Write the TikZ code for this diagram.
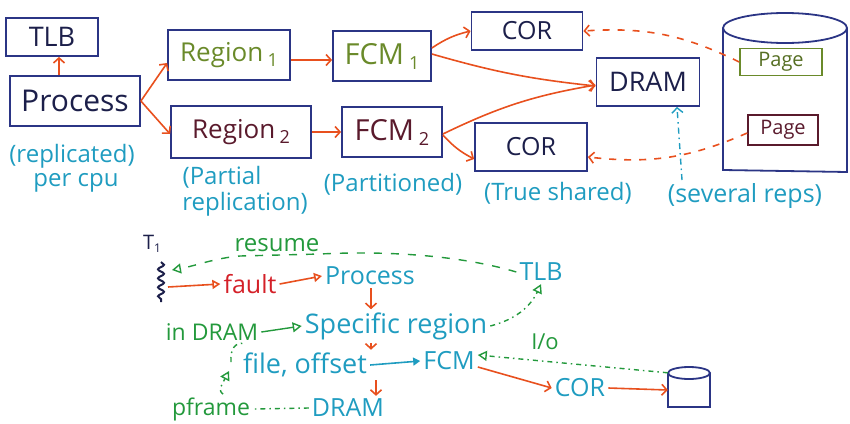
\documentclass[tikz,border=0pt]{standalone}
\usepackage{fontspec}
\setmainfont{Open Sans}
\usetikzlibrary{arrows.meta,decorations.pathmorphing}
\definecolor{navyc}{HTML}{2B3585}
\definecolor{inkc}{HTML}{1C1F4A}
\definecolor{oredc}{HTML}{E8501E}
\definecolor{olivec}{HTML}{6A8A2A}
\definecolor{maroonc}{HTML}{5A1A2C}
\definecolor{tealc}{HTML}{1F9CC0}
\definecolor{greenc}{HTML}{23993C}
\definecolor{redc}{HTML}{D42028}
\newcommand{\fs}[1]{\fontsize{#1}{#1}\selectfont}
\begin{document}
\begin{tikzpicture}[x=1pt,y=-1pt,
  box/.style={draw=navyc, line width=1.8pt, inner sep=0pt, text=inkc},
  arr/.style={draw=oredc, line width=1.6pt, -{Straight Barb[length=5pt,width=11pt]}},
  darr/.style={arr, dash pattern=on 7pt off 8pt},
  tarr/.style={draw=oredc, line width=1.6pt, -{Triangle[open,length=8pt,width=9pt]}},
  gline/.style={draw=greenc, line width=1.4pt},
  gdash/.style={gline, dash pattern=on 8pt off 9pt},
  gdot/.style={gline, dash pattern=on 5pt off 4pt on 1.5pt off 4pt},
  gtip/.style={-{Triangle[open,length=9pt,width=10pt]}},
  note/.style={text=tealc, font=\fs{24}, inner sep=0pt},
  bt/.style={text=tealc, font=\fs{25}, inner sep=3pt},
  gt/.style={text=greenc, font=\fs{23}, inner sep=3pt},
]
\useasboundingbox (0,0) rectangle (850,423);

% ---------- top diagram ----------
\node[box, minimum width=92pt, minimum height=38pt, font=\fs{27}] (tlb) at (52,37) {TLB};
\node[box, minimum width=130pt, minimum height=50pt, font=\fs{30}] (proc) at (75,101) {Process};
\node[box, minimum width=122pt, minimum height=50pt, font=\fs{26}, text=olivec] (r1) at (229,55) {Region\,\raisebox{-5pt}{\fs{18}1}};
\node[box, minimum width=140pt, minimum height=52pt, font=\fs{26}, text=maroonc] (r2) at (241,132) {Region\,\raisebox{-5pt}{\fs{18}2}};
\node[box, minimum width=98pt, minimum height=50pt, font=\fs{29}, text=olivec] (f1) at (382,56) {FCM\,\raisebox{-5pt}{\fs{18}1}};
\node[box, minimum width=100pt, minimum height=50pt, font=\fs{29}, text=maroonc] (f2) at (392,132) {FCM\,\raisebox{-5pt}{\fs{18}2}};
\node[box, minimum width=111pt, minimum height=38pt, font=\fs{25}] (c1) at (527,31) {COR};
\node[box, minimum width=103pt, minimum height=48pt, font=\fs{27}] (dram) at (648,82) {DRAM};
\node[box, minimum width=112pt, minimum height=48pt, font=\fs{25}] (c2) at (531,147) {COR};

% disk
\draw[navyc, line width=1.8pt] (723,28) -- (723,170) -- (847,172) -- (847,28);
\draw[navyc, line width=1.8pt] (785,28) ellipse [x radius=62pt, y radius=15pt];
\node[draw=olivec, line width=1.6pt, minimum width=82pt, minimum height=27pt, inner sep=0pt, font=\fs{20}, text=olivec!80!black] (p1) at (781,62) {Page};
\node[draw=maroonc, line width=1.6pt, minimum width=70pt, minimum height=30pt, inner sep=0pt, font=\fs{20}, text=maroonc] (p2) at (783,130) {Page};

% annotations
\node[note] (rep) at (72,156) {(replicated)};
\node[note] (pcpu) at (76,183) {per cpu};
\node[note] (part) at (222,177) {(Partial};
\node[note] (repl) at (245,204) {replication)};
\node[note] (parti) at (393,184) {(Partitioned)};
\node[note] (trues) at (558,193) {(True shared)};
\node[note, font=\fs{25}] (sev) at (745,196) {(several reps)};
\coordinate (tstart) at (682,180);

% top connectors
\draw[arr] ([xshift=-16pt]proc.north) -- ([xshift=-16pt]proc.north |- tlb.south);
\draw[arr] (proc.east) -- ([yshift=-8pt]r1.west);
\draw[arr] (proc.east) -- ([yshift=-2pt]r2.west);
\draw[arr] ([yshift=-5pt]r1.east) -- ([yshift=-5pt]r1.east -| f1.west);
\draw[arr] (r2.east) -- (r2.east -| f2.west);
\draw[arr] ([yshift=8pt]f1.east) to[bend left=10] (c1.west);
\draw[arr] ([yshift=2pt]f1.east) to[bend right=5] ([yshift=-4pt]dram.west);
\draw[arr] ([yshift=-2pt]f2.east) to[bend left=8] ([yshift=-3pt]dram.west);
\draw[arr] ([yshift=-3pt]f2.east) to[bend right=10] ([yshift=-12pt]c2.west);
\draw[darr] (p1.west) to[bend right=15] (c1.east);
\draw[darr] ([yshift=-3pt]p2.west) to[bend left=15] ([yshift=-10pt]c2.east);
\draw[tealc, line width=1.4pt, dash pattern=on 6pt off 4pt on 1.5pt off 4pt,
      -{Straight Barb[length=5pt,width=11pt]}] (tstart) -- ([xshift=29pt]dram.south);

% ---------- bottom diagram ----------
\node[text=inkc, font=\fs{20}, inner sep=0pt] (t1) at (152,244) {T\raisebox{-3pt}{\fs{12}1}};
\draw[inkc, line width=2pt, decorate, decoration={snake, amplitude=3pt, segment length=9pt}] (161,262) -- (161,302);
\coordinate (sq) at (168,287);
\coordinate (sqt) at (172,270);

\node[gt, font=\fs{24}] (resume) at (277,245) {resume};
\node[text=redc, font=\fs{25}, inner sep=3pt] (fault) at (250,284) {fault};
\node[bt] (bproc) at (370,276) {Process};
\node[bt] (btlb) at (541,272) {TLB};
\node[gt] (indram) at (212,332) {in DRAM};
\node[bt, font=\fs{27}] (spec) at (396,326) {Specific region};
\node[bt, font=\fs{27}] (fo) at (305,365) {file, offset};
\node[bt] (bfcm) at (449,361) {FCM};
\node[gt, font=\fs{22}] (io) at (545,342) {I/o};
\node[bt] (bcor) at (580,388) {COR};
\node[gt] (pframe) at (211,409) {pframe};
\node[bt] (bdram) at (348,408) {DRAM};

% small disk
\node[minimum width=42pt, minimum height=34pt, inner sep=0pt] (disk2) at (689,390) {};
\draw[navyc, line width=1.8pt] (668,373) -- (668,407) -- (710,407) -- (710,373);
\draw[navyc, line width=1.8pt] (689,373) ellipse [x radius=21pt, y radius=6pt];

\coordinate (cx) at (371,0);
\coordinate (cy) at (376,0);

% bottom connectors
\draw[tarr] (sq) -- (fault.west);
\draw[tarr] (fault.east) -- (bproc.west);
\draw[arr] (bproc.south -| cx) -- (spec.north -| cx);
\draw[arr] (spec.south -| cx) -- (fo.north -| cx);
\draw[arr] (fo.south -| cy) -- (bdram.north -| cy);
\draw[tealc, line width=1.6pt, -{Triangle[length=7pt,width=8pt]}] (fo.east) -- (bfcm.west);
\draw[arr] ([yshift=-6pt]bfcm.east) -- (bcor.west);
\draw[arr] (bcor.east) -- (disk2.west);
\draw[gdot, gtip] (disk2.north west) -- ([yshift=6pt]bfcm.east);
\draw[gdot, gtip] (spec.east) to[bend right=25] (btlb.south);
\draw[gdash, gtip] (btlb.west) .. controls (470,258) and (400,250) .. (320,254) -- (240,256) .. controls (215,258) and (195,266) .. (sqt);
\draw[gline, gtip] (indram.east) -- (spec.west);
\draw[gdot] (bdram.west) -- (pframe.east);
\coordinate (m1) at (229,371);
\coordinate (m2) at (231,362);
\draw[gdot, gtip] ([xshift=12pt]pframe.north) .. controls (219,390) .. (m1);
\draw[gdot] (m2) .. controls (230,348) and (236,342) .. ([xshift=32pt]indram.south);
\end{tikzpicture}
\end{document}
